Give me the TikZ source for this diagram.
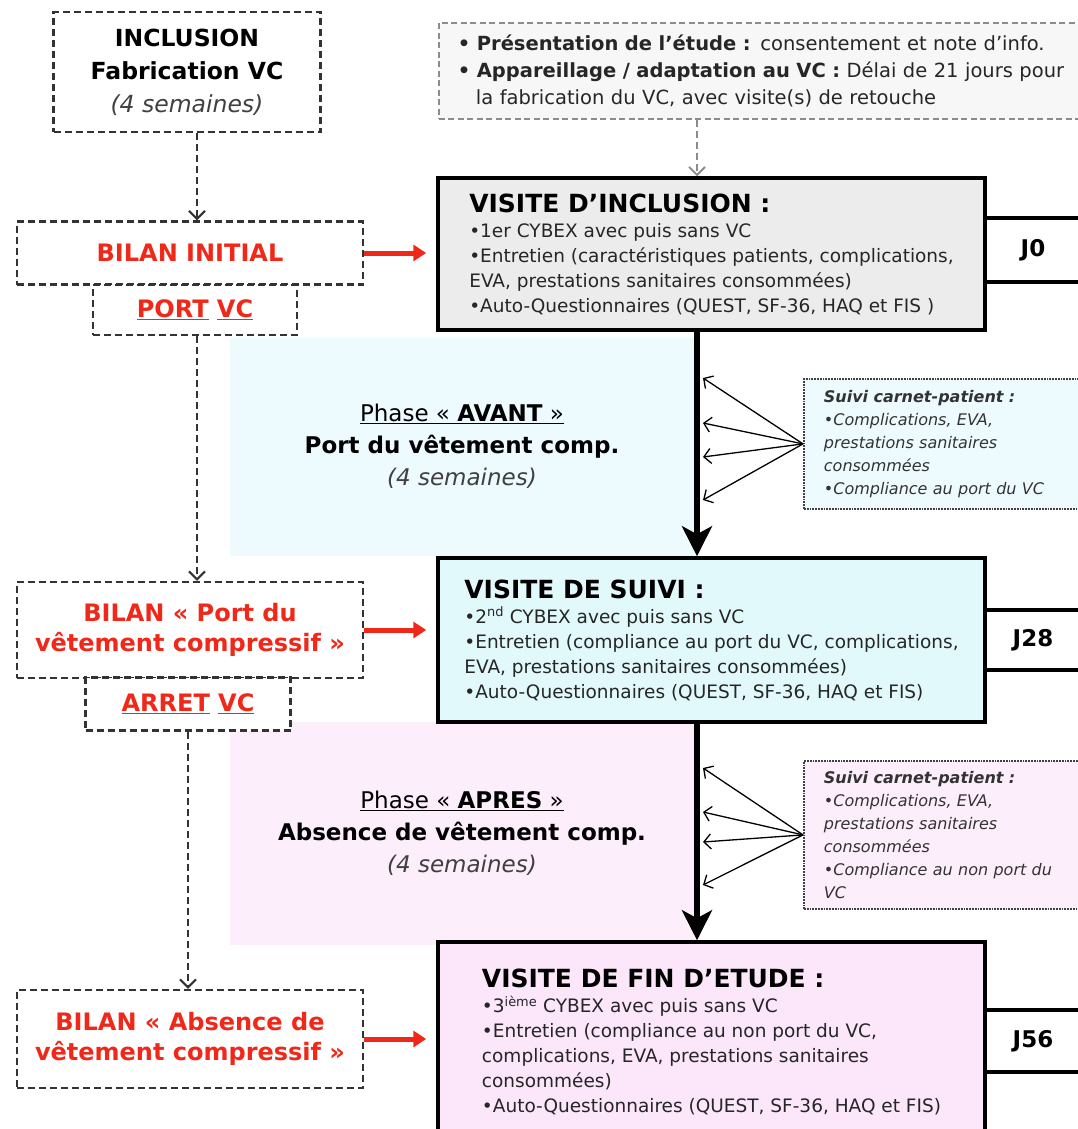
\documentclass[tikz,border=0pt]{standalone}
\usepackage{fontspec}
\setmainfont{DejaVu Sans}
\usepackage{xcolor}
\usepackage{tikz}
\usetikzlibrary{arrows.meta, positioning}

\definecolor{bilanred}{RGB}{240,40,25}
\definecolor{avantbg}{RGB}{238,251,254}
\definecolor{apresbg}{RGB}{252,238,250}
\definecolor{inclgray}{RGB}{236,236,236}
\definecolor{suivicyan}{RGB}{226,249,252}
\definecolor{finpink}{RGB}{251,230,250}
\definecolor{notegray}{RGB}{247,247,247}
\newcommand{\fsz}[2]{\fontsize{#1}{#2}\selectfont}

\begin{document}
\begin{tikzpicture}[x=1pt, y=-1pt,
            every node/.style={inner sep=0pt},
            dashbox/.style={draw=black!80, fill=white, line width=2.2pt, dash pattern=on 7pt off 4pt, align=center},
            bilan/.style={dashbox, text=bilanred, font=\fsz{24}{30}\bfseries},
            visit/.style={draw, line width=3.5pt, minimum width=547pt, align=left, text=black!85, font=\fsz{18.5}{25}},
            jbox/.style={draw, fill=white, line width=3.5pt, minimum width=96pt, minimum height=64pt, font=\fsz{23}{26}\bfseries},
            notebox/.style={draw=black!75, line width=1.8pt, densely dotted, anchor=north west, text width=300pt, inner xsep=20pt, align=left, text=black!80, font=\fsz{16}{23}\itshape},
            phase/.style={align=center, font=\fsz{23}{32}},
            dashlink/.style={draw=black!80, line width=2.2pt, dash pattern=on 7pt off 4pt, -{Straight Barb[length=8pt,width=16pt]}},
            redlink/.style={draw=bilanred, line width=5pt, -{Triangle[length=13pt,width=16pt]}, shorten >=10pt},
            mainlink/.style={line width=6pt, -{Stealth[length=30pt,width=30pt,inset=8pt]}},
            fanlink/.style={line width=1.3pt, -{Straight Barb[length=7pt,width=15pt]}},
        ]
        \useasboundingbox (0,0) rectangle (1078,1129);
        \clip (0,0) rectangle (1078,1129);
        \fill[white] (0,0) rectangle (1078,1129);

        \fill[avantbg] (230,338) rectangle (700,556);
        \fill[apresbg] (230,722) rectangle (700,945);

        \node (incl) at (187,72) [dashbox, minimum width=267pt, minimum height=120pt, font=\fsz{23.5}{33}]
            {\textbf{INCLUSION}\\\textbf{Fabrication VC}\\\textcolor{black!75}{\textit{(4 semaines)}}};

        \node (binit) at (190,253) [bilan, minimum width=346pt, minimum height=63pt] {BILAN INITIAL};
        \node (portvc) at (195,310) [bilan, minimum width=204pt, minimum height=50pt] {\underline{PORT} \underline{VC}};

        \node (bport) at (190,630) [bilan, minimum width=346pt, minimum height=96pt] {BILAN « Port du\\vêtement compressif »};
        \node (arret) at (188,704) [bilan, minimum width=205pt, minimum height=53pt] {\underline{ARRET} \underline{VC}};

        \node (babs) at (190,1039) [bilan, minimum width=346pt, minimum height=98pt] {BILAN « Absence de\\vêtement compressif »};

        \node (pres) at (438,22) [dashbox, line width=1.8pt, dash pattern=on 6pt off 3.5pt, draw=black!45, fill=notegray, anchor=north west, text width=650pt, inner xsep=19pt, minimum height=96pt, align=left, text=black!85, font=\fsz{19.5}{27}]
            {\textbf{• Présentation de l'étude :} consentement et note d'info.\\
             \textbf{• Appareillage / adaptation au VC :} Délai de 21 jours pour\\
             \hspace*{18pt}la fabrication du VC, avec visite(s) de retouche};

        \node (j0) at (1033,250) [jbox] {J0};
        \node (j28) at (1033,640) [jbox, minimum height=60pt] {J28};
        \node (j56) at (1033,1041) [jbox, minimum height=62pt] {J56};

        \node (vinc) at (711.5,254) [visit, fill=inclgray, minimum height=152pt]
            {{\fsz{25}{30}\bfseries\color{black} VISITE D'INCLUSION :}\\
             •1er CYBEX avec puis sans VC\\
             •Entretien (caractéristiques patients, complications,\\
             EVA, prestations sanitaires consommées)\\
             •Auto-Questionnaires (QUEST, SF-36, HAQ et FIS )};
        \node (vsuiv) at (711.5,640) [visit, fill=suivicyan, minimum height=164pt]
            {{\fsz{25}{30}\bfseries\color{black} VISITE DE SUIVI :}\\
             •2\textsuperscript{nd} CYBEX avec puis sans VC\\
             •Entretien (compliance au port du VC, complications,\\
             EVA, prestations sanitaires consommées)\\
             •Auto-Questionnaires (QUEST, SF-36, HAQ et FIS)};
        \node (vfin) at (711.5,1042) [visit, fill=finpink, minimum height=200pt]
            {{\fsz{25}{30}\bfseries\color{black} VISITE DE FIN D'ETUDE :}\\
             •3\textsuperscript{ième} CYBEX avec puis sans VC\\
             •Entretien (compliance au non port du VC,\\
             complications, EVA, prestations sanitaires\\
             consommées)\\
             •Auto-Questionnaires (QUEST, SF-36, HAQ et FIS)};

        \node (phavant) at (462,446) [phase]
            {\underline{Phase « \textbf{AVANT} »}\\\textbf{Port du vêtement comp.}\\\textcolor{black!75}{\textit{(4 semaines)}}};
        \node (phapres) at (462,833) [phase]
            {\underline{Phase « \textbf{APRES} »}\\\textbf{Absence de vêtement comp.}\\\textcolor{black!75}{\textit{(4 semaines)}}};

        \node (suivA) at (803,378) [notebox, fill=avantbg, minimum height=130pt]
            {\textbf{Suivi carnet-patient :}\\•Complications, EVA,\\prestations sanitaires\\consommées\\•Compliance au port du VC};
        \node (suivB) at (803,760) [notebox, fill=apresbg, minimum height=148pt]
            {\textbf{Suivi carnet-patient :}\\•Complications, EVA,\\prestations sanitaires\\consommées\\•Compliance au non port du\\VC};

        \coordinate (axis) at (697,0);
        \coordinate (lane) at (197,0);

        \coordinate (fa1) at (703,378);
        \coordinate (fa2) at (703,423);
        \coordinate (fa3) at (703,457);
        \coordinate (fa4) at (703,500);
        \coordinate (fb1) at (703,768);
        \coordinate (fb2) at (703,812);
        \coordinate (fb3) at (703,842);
        \coordinate (fb4) at (703,885);

        \draw[dashlink] (incl.south -| lane) -- (binit.north -| lane);
        \draw[dashlink] (portvc.south -| lane) -- (bport.north -| lane);
        \draw[dashlink] (arret.south) -- (babs.north -| arret.south);
        \draw[dashlink, line width=1.8pt, draw=black!45] (pres.south -| axis) -- (vinc.north -| axis);

        \draw[redlink] (binit.east) -- (binit.east -| vinc.west);
        \draw[redlink] (bport.east) -- (bport.east -| vinc.west);
        \draw[redlink] (babs.east) -- (babs.east -| vinc.west);

        \draw[mainlink] (vinc.south -| axis) -- (vsuiv.north -| axis);
        \draw[mainlink] (vsuiv.south -| axis) -- (vfin.north -| axis);

        \draw[fanlink] (suivA.west) -- (fa1);
        \draw[fanlink] (suivA.west) -- (fa2);
        \draw[fanlink] (suivA.west) -- (fa3);
        \draw[fanlink] (suivA.west) -- (fa4);
        \draw[fanlink] (suivB.west) -- (fb1);
        \draw[fanlink] (suivB.west) -- (fb2);
        \draw[fanlink] (suivB.west) -- (fb3);
        \draw[fanlink] (suivB.west) -- (fb4);

        \end{tikzpicture}
\end{document}
